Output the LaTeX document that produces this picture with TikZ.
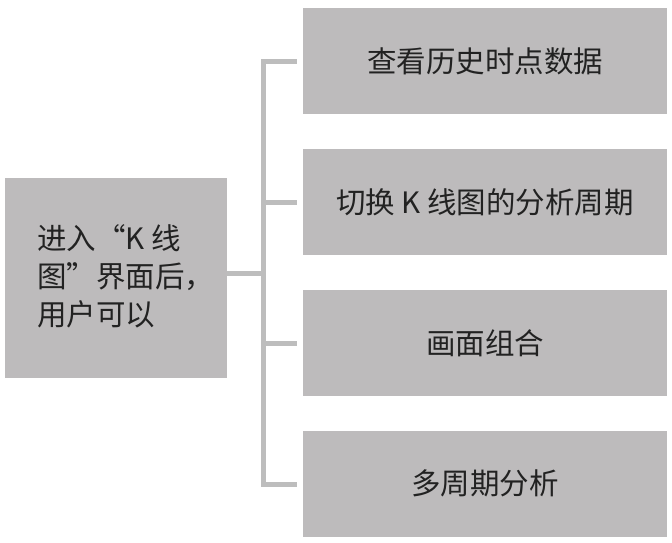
\documentclass[tikz,border=0pt]{standalone}
\usepackage{fontspec}
\setmainfont{Noto Sans CJK SC}
\definecolor{boxgray}{HTML}{BDBBBC}
\definecolor{linegray}{HTML}{BDBDBD}
\definecolor{txt}{HTML}{222222}
\begin{document}
\begin{tikzpicture}[x=1pt,y=-1pt,
  box/.style={fill=boxgray,draw=none,inner sep=0pt,text=txt,font=\fontsize{29.5}{38}\selectfont},
  rbox/.style={box,minimum width=364pt,minimum height=106pt},
  conn/.style={draw=linegray,line width=5pt,line join=miter}]
\useasboundingbox[fill=white] (0,0) rectangle (672,543);
\node[box,minimum width=222pt,minimum height=200pt] (L) at (116,278) {};
\node[box,anchor=north west,align=left] (Lt) at (37,224) {进入“K 线\\图”界面后，\\用户可以};
\node[rbox] (R1) at (485,61) {查看历史时点数据};
\node[rbox] (R2) at (485,202) {切换 K 线图的分析周期};
\node[rbox] (R3) at (485,343) {画面组合};
\node[rbox] (R4) at (485,483.5) {多周期分析};
\coordinate (b1) at (263,62);
\coordinate (b2) at (263,202);
\coordinate (bm) at (263,273);
\coordinate (b3) at (263,343);
\coordinate (b4) at (263,484);
\draw[conn] ([xshift=-6pt]R1.west |- b1) -- (b1) -- (b4) -- ([xshift=-6pt]R4.west |- b4);
\draw[conn] (b2) -- ([xshift=-6pt]R2.west |- b2);
\draw[conn] (b3) -- ([xshift=-6pt]R3.west |- b3);
\draw[conn] (L.east |- bm) -- (bm);
\end{tikzpicture}
\end{document}
